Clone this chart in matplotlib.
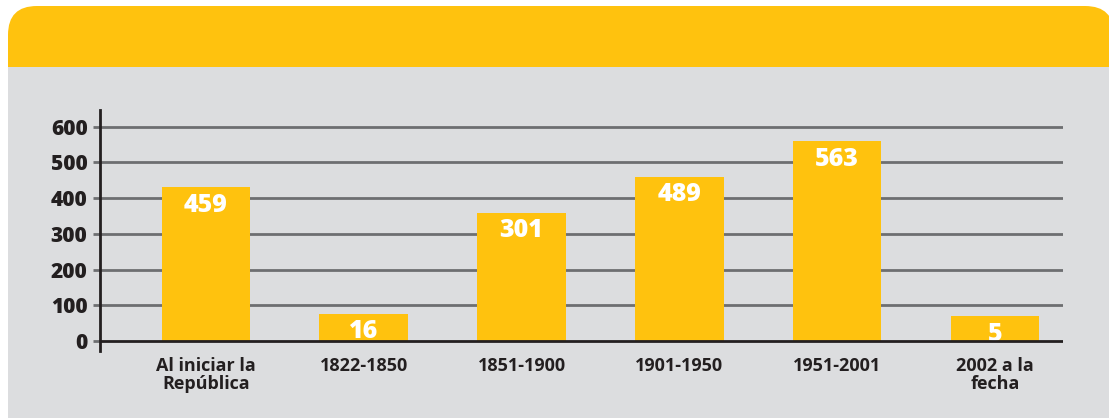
import numpy as np
import matplotlib
matplotlib.use('Agg')
import matplotlib.pyplot as plt
from matplotlib.patches import FancyBboxPatch, Rectangle

# datos
categorias = ['Al iniciar la\nRepública', '1822-1850', '1851-1900',
              '1901-1950', '1951-2001', '2002 a la\nfecha']
alturas = [431, 76, 359, 460, 560, 70]      # altura dibujada de cada barra
etiquetas = ['459', '16', '301', '489', '563', '5']
yticks = [0, 100, 200, 300, 400, 500, 600]

amarillo = '#FFC20E'
gris = '#DCDDDF'
linea = '#6D6E71'
texto = '#231F20'

plt.rcParams['font.family'] = ['Open Sans', 'DejaVu Sans']

W, H = 1109, 418
fig = plt.figure(figsize=(W / 100, H / 100), dpi=100)
fig.patch.set_facecolor('white')

# cabecera amarilla con esquinas redondeadas y fondo gris
cab = FancyBboxPatch((8 / W, 40 / H), (1114 - 8) / W, (H - 6 - 40) / H,
                     boxstyle='round,pad=0,rounding_size=0.026',
                     mutation_aspect=W / H,
                     transform=fig.transFigure, facecolor=amarillo,
                     edgecolor='none', zorder=0)
fig.patches.append(cab)
fig.patches.append(Rectangle((8 / W, 0), 1 - 8 / W, (H - 67) / H,
                             transform=fig.transFigure, facecolor=gris,
                             edgecolor='none', zorder=1))

ax = fig.add_axes([100 / W, (H - 351) / H, (1063 - 100) / W, (351 - 110) / H])
ax.set_facecolor('none')
ax.set_zorder(2)

x = np.arange(len(categorias))
barras = ax.bar(x, alturas, width=0.56, color=amarillo, zorder=3)

for b, e in zip(barras, etiquetas):
    ax.annotate(e, (b.get_x() + b.get_width() / 2, b.get_height()),
                xytext=(0, -4), textcoords='offset points',
                ha='center', va='top', color='white',
                fontsize=18, fontweight=800, zorder=4,
                clip_on=False)

for v in yticks[1:]:
    ax.axhline(v, color=linea, lw=2, zorder=1)
ax.axhline(0, color=texto, lw=2, zorder=5)

ax.set_xlim(-0.67, 5.43)
ax.set_ylim(-28, 647)
ax.set_yticks(yticks)
ax.set_yticklabels([str(v) for v in yticks], fontsize=15,
                   fontweight=800, color=texto)
ax.tick_params(axis='y', length=5, width=2, color=linea, pad=4)
ax.set_xticks(x)
ax.set_xticklabels(categorias, fontsize=13, fontweight='bold',
                   color=texto, linespacing=1.05)
ax.tick_params(axis='x', length=0, pad=4)

for s in ['top', 'right', 'bottom']:
    ax.spines[s].set_visible(False)
ax.spines['left'].set_color(texto)
ax.spines['left'].set_linewidth(2)

fig.savefig('out.png', dpi=100)
